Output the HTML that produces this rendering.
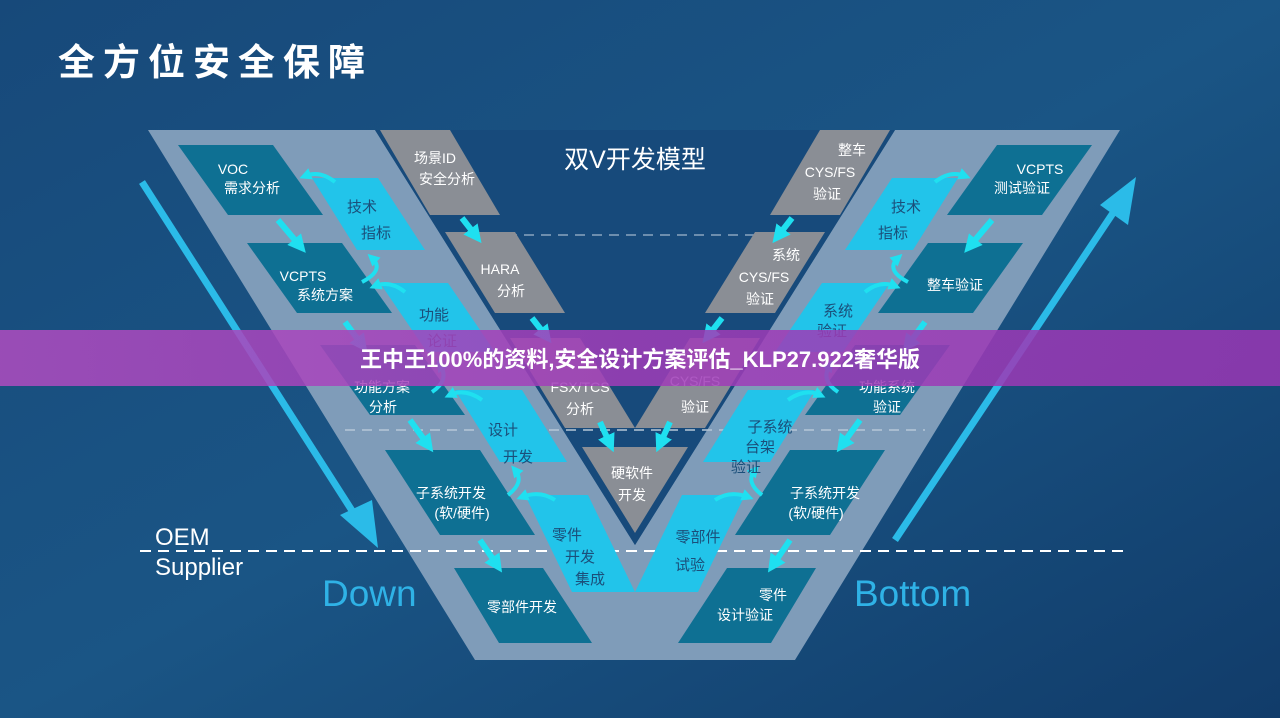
<!DOCTYPE html>
<html><head><meta charset="utf-8"><style>
html,body{margin:0;padding:0;width:1280px;height:718px;overflow:hidden;background:#154677}
svg{display:block}
text{font-family:"Liberation Sans","Noto Sans CJK SC",sans-serif}
</style></head><body>
<svg width="1280" height="718" viewBox="0 0 1280 718" xmlns="http://www.w3.org/2000/svg">
<defs>
<linearGradient id="bg" x1="0" y1="0" x2="1" y2="1">
<stop offset="0" stop-color="#17497a"/><stop offset="0.5" stop-color="#1a5585"/><stop offset="1" stop-color="#113c6a"/>
</linearGradient>
<linearGradient id="ban" x1="0" y1="0" x2="1" y2="0">
<stop offset="0" stop-color="#b04cc0"/><stop offset="0.5" stop-color="#a03cb8"/><stop offset="1" stop-color="#9a36b4"/>
</linearGradient>
<marker id="ah" viewBox="0 0 10 10" refX="5" refY="5" markerWidth="3" markerHeight="3" orient="auto"><path d="M0,0L10,5L0,10z" fill="#1fe0f0"/></marker>
</defs>
<rect width="1280" height="718" fill="url(#bg)"/>
<text x="58" y="75" font-size="37" fill="#fff" font-weight="bold" letter-spacing="8">全方位安全保障</text>

<polygon points="148,130 375,130 635,545 895,130 1120,130 795,660 475,660" fill="#7f9cb9"/>
<polygon points="375,130 635,545 895,130" fill="#174a7b"/>

<line x1="142" y1="182" x2="358" y2="520" stroke="#2bbbe8" stroke-width="7"/>
<polygon points="340,515 378,548 372,500" fill="#2bbbe8"/>
<line x1="895" y1="540" x2="1115" y2="210" stroke="#2bbbe8" stroke-width="7"/>
<polygon points="1100,205 1136,177 1128,225" fill="#2bbbe8"/>

<line x1="490" y1="235" x2="800" y2="235" stroke="#8aa4c0" stroke-width="1.5" stroke-dasharray="10,7"/>
<line x1="345" y1="430" x2="925" y2="430" stroke="#b5c7d8" stroke-width="1.5" stroke-dasharray="10,7"/>
<line x1="140" y1="551" x2="1130" y2="551" stroke="#ffffff" stroke-width="2" stroke-dasharray="11,7"/>

<g id="L">
<g fill="#0e7093">
<polygon points="178,145 273,145 323,215 228,215"/>
<polygon points="247,243 342,243 392,313 297,313"/>
<polygon points="320,345 415,345 465,415 370,415"/>
<polygon points="385,450 480,450 535,535 440,535"/>
<polygon points="454,568 543,568 592,643 499,643"/>
</g>
<g fill="#22c4ea">
<polygon points="312,178 378,178 425,250 357,250"/>
<polygon points="380,283 448,283 495,352 427,352"/>
<polygon points="455,390 522,390 567,462 500,462"/>
<polygon points="525,495 588,495 635,592 572,592"/>
</g>
<g fill="#8a8e95">
<polygon points="380,130 450,130 500,215 430,215"/>
<polygon points="445,232 515,232 565,313 495,313"/>
<polygon points="510,338 580,338 635,428 565,428"/>
</g>
</g>
<use href="#L" transform="matrix(-1 0 0 1 1270 0)"/>
<polygon points="582,447 688,447 635,533" fill="#8a8e95"/>

<g stroke="#1fe0f0" stroke-width="6" fill="none" marker-end="url(#ah)">
<path d="M278,220 L300,246"/><path d="M345,322 L362,345"/><path d="M410,420 L428,445"/><path d="M480,540 L497,565"/>
<path d="M462,218 L476,236"/><path d="M532,318 L546,336"/><path d="M600,422 L610,444"/>
<path d="M792,218 L778,236"/><path d="M722,318 L708,336"/><path d="M670,422 L660,444"/>
<path d="M992,220 L970,246"/><path d="M925,322 L908,345"/><path d="M860,420 L842,445"/><path d="M790,540 L773,565"/>
</g>
<g stroke="#1fe0f0" stroke-width="4" fill="none" marker-end="url(#ah)">
<path d="M335,182 Q320,170 305,176"/><path d="M362,282 Q385,270 372,258"/>
<path d="M405,292 Q390,280 375,286"/><path d="M432,392 Q450,380 440,365"/>
<path d="M482,400 Q465,388 450,395"/><path d="M508,495 Q525,482 515,470"/>
<path d="M555,500 Q540,490 522,497"/>
<path d="M935,182 Q950,170 965,176"/><path d="M908,282 Q885,270 898,258"/>
<path d="M865,292 Q880,280 895,286"/><path d="M838,392 Q820,380 830,365"/>
<path d="M788,400 Q805,388 820,395"/><path d="M762,495 Q745,482 755,470"/>
<path d="M715,500 Q730,490 748,497"/>
</g>

<g fill="#fff" font-size="14" text-anchor="middle">
<text x="233" y="174">VOC</text><text x="252" y="193">需求分析</text>
<text x="303" y="281">VCPTS</text><text x="325" y="300">系统方案</text>
<text x="382" y="392">功能方案</text><text x="383" y="412">分析</text>
<text x="451" y="498">子系统开发</text><text x="462" y="518">(软/硬件)</text>
<text x="522" y="612">零部件开发</text>
<text x="435" y="163">场景ID</text><text x="447" y="184">安全分析</text>
<text x="500" y="274">HARA</text><text x="511" y="296">分析</text>
<text x="580" y="392">FSX/TCS</text><text x="580" y="414">分析</text>
<text x="632" y="478">硬软件</text><text x="632" y="500">开发</text>
<text x="852" y="155">整车</text><text x="830" y="177">CYS/FS</text><text x="827" y="199">验证</text>
<text x="786" y="260">系统</text><text x="764" y="282">CYS/FS</text><text x="760" y="304">验证</text>
<text x="695" y="386">CYS/FS</text><text x="695" y="412">验证</text>
<text x="1040" y="174">VCPTS</text><text x="1022" y="193">测试验证</text>
<text x="955" y="290">整车验证</text>
<text x="887" y="392">功能系统</text><text x="887" y="412">验证</text>
<text x="825" y="498">子系统开发</text><text x="816" y="518">(软/硬件)</text>
<text x="773" y="600">零件</text><text x="745" y="620">设计验证</text>
</g>
<g fill="#1b4f7a" font-size="15" text-anchor="middle">
<text x="362" y="212">技术</text><text x="376" y="238">指标</text>
<text x="434" y="320">功能</text><text x="442" y="346">论证</text>
<text x="503" y="435">设计</text><text x="518" y="462">开发</text>
<text x="567" y="540">零件</text><text x="580" y="562">开发</text><text x="590" y="584">集成</text>
<text x="906" y="212">技术</text><text x="893" y="238">指标</text>
<text x="838" y="316">系统</text><text x="832" y="336">验证</text>
<text x="770" y="432">子系统</text><text x="760" y="452">台架</text><text x="746" y="472">验证</text>
<text x="698" y="542">零部件</text><text x="690" y="570">试验</text>
</g>
<text x="635" y="168" font-size="25" fill="#fff" text-anchor="middle">双V开发模型</text>
<text x="155" y="545" font-size="24" fill="#fff">OEM</text>
<text x="155" y="575" font-size="24" fill="#fff">Supplier</text>
<text x="322" y="606" font-size="37" fill="#2fb2e6">Down</text>
<text x="854" y="606" font-size="37" fill="#2fb2e6">Bottom</text>

<rect x="0" y="330" width="1280" height="56" fill="url(#ban)" opacity="0.85"/>
<text x="640" y="367" font-size="22" font-weight="bold" fill="#fff" text-anchor="middle">王中王100%的资料,安全设计方案评估_KLP27.922奢华版</text>
</svg>
</body></html>
